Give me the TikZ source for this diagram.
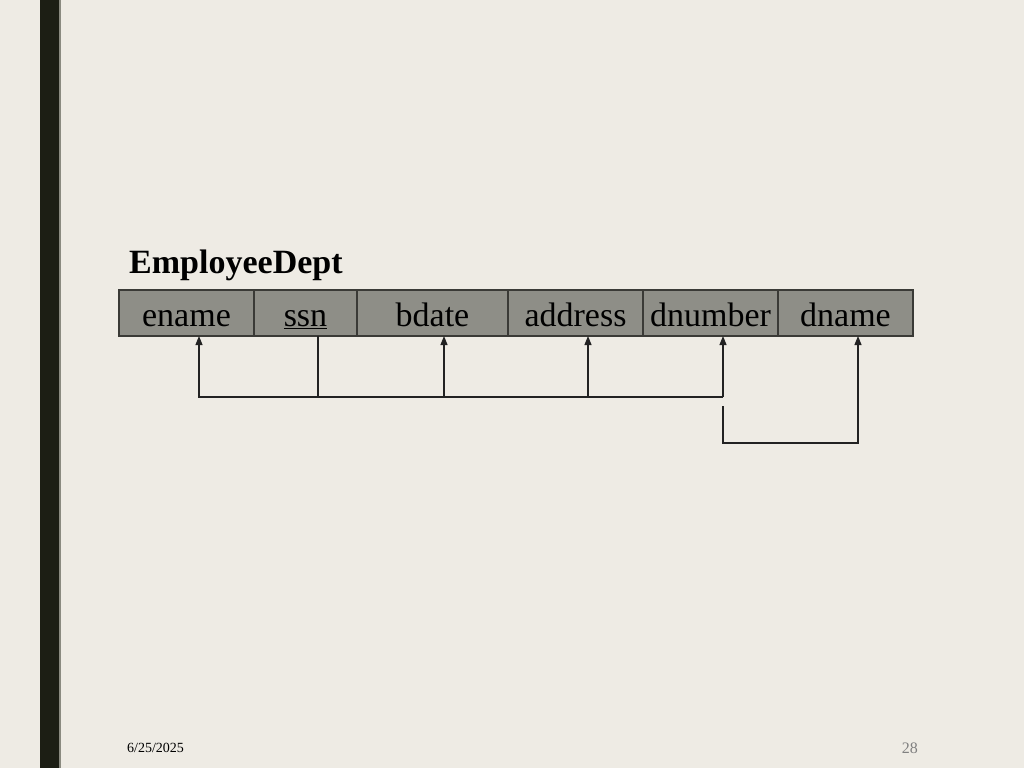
\documentclass[tikz,border=0pt]{standalone}
\usepackage{fontspec}
\setmainfont{Liberation Serif}
\usepackage{tikz}
\usetikzlibrary{arrows.meta,positioning}
\definecolor{eBack}{HTML}{EEEBE4}
\definecolor{eBar}{HTML}{1C1E14}
\definecolor{eRim}{HTML}{8A8A80}
\definecolor{eCell}{HTML}{8E8E87}
\definecolor{eEdge}{HTML}{3A3A36}
\definecolor{eLine}{HTML}{222222}
\tikzset{fld/.style={draw=eEdge, fill=eCell, line width=1.2pt, inner xsep=0pt,
  inner ysep=10pt, outer sep=0pt, text height=26pt, text depth=0pt,
  font=\fontsize{34}{40}\selectfont}}
\tikzset{txt/.style={inner sep=0pt, anchor=base west}}
\tikzset{k/.style={draw, eLine, line width=1.1pt, -{Triangle[length=9pt,width=7pt]}}}
\tikzset{kk/.style={draw, eLine, line width=1.1pt}}
\begin{document}
\begin{tikzpicture}[x=1pt, y=-1pt]
            \fill [eBack] (0,0) rectangle (1024,768);
            \fill [eBar] (40,0) rectangle (59,768);
            \fill [eRim] (59,0) rectangle (60.5,768);
            \useasboundingbox (0,0) rectangle (1024,768);
            %%
            \node (title) at (129,273) [txt, font=\bfseries\fontsize{34}{40}\selectfont] {EmployeeDept};
            %%
            \node (ename) at (119,290) [fld, anchor=north west, minimum width=135pt] {ename};
            \node (ssn) [fld, right=0pt of ename, minimum width=103pt] {\underline{ssn}};
            \node (bdate) [fld, right=0pt of ssn, minimum width=151pt] {bdate};
            \node (address) [fld, right=0pt of bdate, minimum width=135pt] {address};
            \node (dnumber) [fld, right=0pt of address, minimum width=135pt] {dnumber};
            \node (dname) [fld, right=0pt of dnumber, minimum width=135pt] {dname};
            %%
            \coordinate (e) at (199,397);
            \coordinate (s) at (318,397);
            \coordinate (b) at (444,397);
            \coordinate (a) at (588,397);
            \coordinate (d) at (723,397);
            \coordinate (d1) at (723,406);
            \coordinate (d2) at (723,443);
            \coordinate (d3) at (858,443);
            %%
            \draw [kk, line width=2pt] (s |- ssn.south) to (s);
            \draw [k] (d) -- (e) -- (e |- ename.south);
            \draw [k] (b) to (b |- bdate.south);
            \draw [k] (a) to (a |- address.south);
            \draw [k] (d) to (d |- dnumber.south);
            \draw [k] (d1) -- (d2) -- (d3) -- (d3 |- dname.south);
            %%
            \node (date) at (127,752) [txt, font=\fontsize{14}{16}\selectfont] {6/25/2025};
            \node (page) at (918,753) [txt, anchor=base east, text=gray, font=\fontsize{16}{18}\selectfont] {28};
\end{tikzpicture}
\end{document}
